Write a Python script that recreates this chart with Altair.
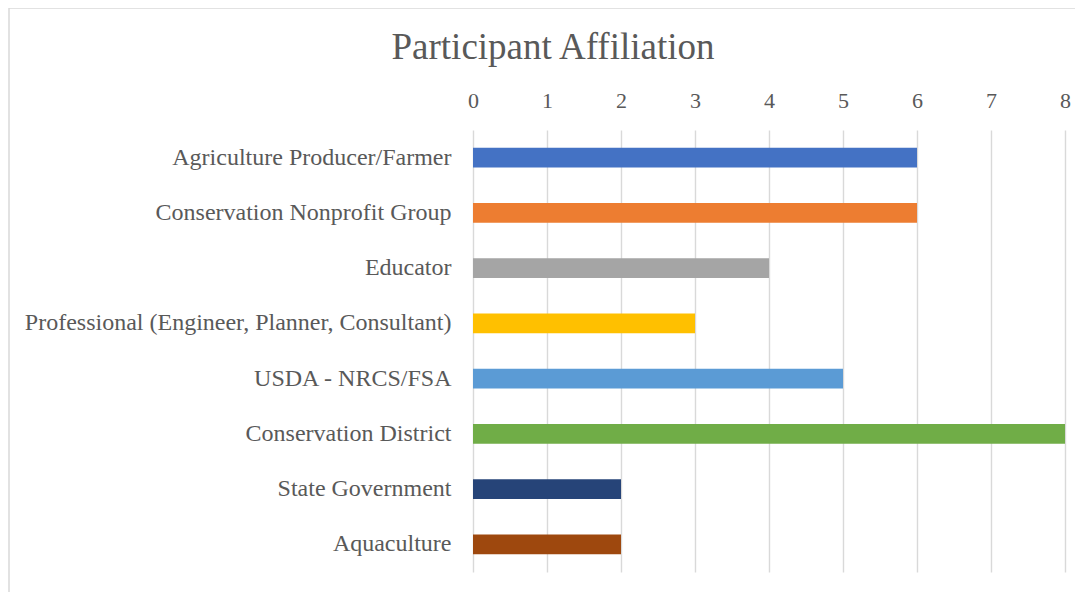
import altair as alt
import pandas as pd

categories = [
    "Agriculture Producer/Farmer",
    "Conservation Nonprofit Group",
    "Educator",
    "Professional (Engineer, Planner, Consultant)",
    "USDA - NRCS/FSA",
    "Conservation District",
    "State Government",
    "Aquaculture",
]
values = [6, 6, 4, 3, 5, 8, 2, 2]
colors = ["#4472C4", "#ED7D31", "#A5A5A5", "#FFC000", "#5B9BD5", "#70AD47", "#264478", "#9E480E"]
title_text = "Participant Affiliation"

df = pd.DataFrame({"cat": categories, "val": values, "color": colors})

FONT = "Liberation Serif"
GREY = "#595959"

bars = alt.Chart(df).mark_bar().encode(
    x=alt.X("val:Q", scale=alt.Scale(domain=[0, 8], nice=False),
            axis=alt.Axis(orient="top", values=list(range(9)), title=None, domain=False, ticks=False,
                          grid=True, gridColor="#D9D9D9", gridWidth=1.4, labelFlush=False,
                          labelFont=FONT, labelFontSize=22, labelColor=GREY, labelPadding=18)),
    y=alt.Y("cat:N", sort=categories, scale=alt.Scale(paddingInner=0.64, paddingOuter=0.32),
            axis=alt.Axis(title=None, domain=False, ticks=False, labelFont=FONT, labelFontSize=24,
                          labelColor=GREY, labelPadding=22, labelLimit=600)),
    color=alt.Color("color:N", scale=None, legend=None),
)

title = alt.Chart(pd.DataFrame({"t": [title_text]})).mark_text(
    font=FONT, fontSize=37, color=GREY, align="center", baseline="middle"
).encode(text="t:N", x=alt.value(80), y=alt.value(-82))

border = alt.Chart(pd.DataFrame({"a": [0]})).mark_rect(
    fill=None, stroke="#D9D9D9", strokeWidth=1.5
).encode(x=alt.value(-464), x2=alt.value(620), y=alt.value(-122), y2=alt.value(480))

chart = alt.layer(border, bars, title).properties(
    width=592, height=442,
    autosize=alt.AutoSizeParams(type="none"),
    padding={"left": 465, "top": 122, "right": 10, "bottom": 20},
).configure_view(stroke=None)

chart.save("out.html", embed_options={"renderer": "svg", "actions": False})
